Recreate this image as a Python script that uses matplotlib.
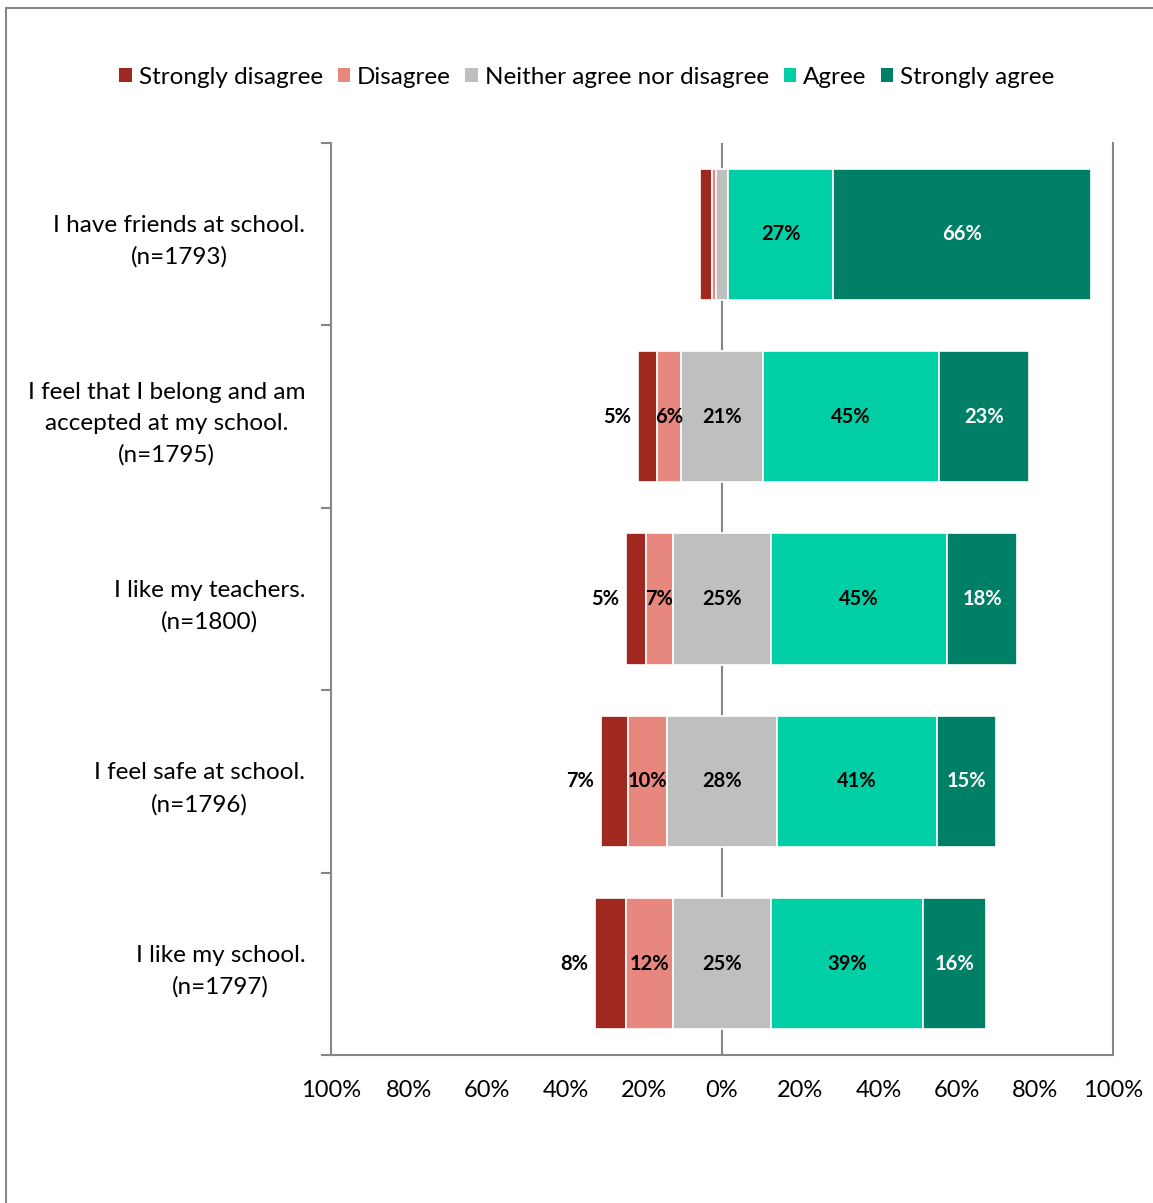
import matplotlib
matplotlib.use("Agg")
import matplotlib.pyplot as plt
from matplotlib.patches import Rectangle, Patch
import numpy as np

plt.rcParams['font.family'] = ['Lato', 'DejaVu Sans']

# Survey statements (top to bottom) and response shares in percent
statements = [
    "I have friends at school.\n(n=1793)",
    "I feel that I belong and am\naccepted at my school.\n(n=1795)",
    "I like my teachers.\n(n=1800)",
    "I feel safe at school.\n(n=1796)",
    "I like my school.\n(n=1797)",
]
strongly_disagree = [3, 5, 5, 7, 8]
disagree = [1, 6, 7, 10, 12]
neither = [3, 21, 25, 28, 25]
agree = [27, 45, 45, 41, 39]
strongly_agree = [66, 23, 18, 15, 16]

series_names = ["Strongly disagree", "Disagree", "Neither agree nor disagree",
                "Agree", "Strongly agree"]
colors = ["#A0291F", "#E8877E", "#BFBFBF", "#00CFA5", "#007F67"]
tick_values = [-100, -80, -60, -40, -20, 0, 20, 40, 60, 80, 100]
tick_labels = ["100%", "80%", "60%", "40%", "20%", "0%", "20%", "40%", "60%", "80%", "100%"]

W, H = 1153, 1203
fig = plt.figure(figsize=(W / 100, H / 100), dpi=100)
ax = fig.add_axes([331 / W, 1 - 1055 / H, (1113 - 331) / W, (1055 - 143) / H])

grey = "#868686"
y = np.arange(len(statements))
bar_h = 0.72

sd = np.array(strongly_disagree, float)
d = np.array(disagree, float)
n = np.array(neither, float)
a = np.array(agree, float)
sa = np.array(strongly_agree, float)

# Diverging layout: neutral split across zero, disagreement to the left, agreement to the right
segments = [
    (sd, -n / 2 - d - sd),
    (d, -n / 2 - d),
    (n, -n / 2),
    (a, n / 2),
    (sa, n / 2 + a),
]

ax.axvline(0, color=grey, lw=1.5, zorder=0)

for (vals, left), col in zip(segments, colors):
    ax.barh(y, vals, left=left, height=bar_h, color=col, edgecolor="white",
            linewidth=1.2, zorder=2)

label_size = 14.5
for i in range(len(statements)):
    # Strongly disagree label sits just outside the bar's left end
    if sd[i] >= 5:
        ax.annotate(f"{int(sd[i])}%", xy=(segments[0][1][i], y[i]), xytext=(-5, 0),
                    textcoords="offset points", ha="right", va="center",
                    fontsize=label_size, fontweight="bold", color="black", zorder=3)
    for (vals, left), tcol in zip(segments[1:], ["black", "black", "black", "white"]):
        v = vals[i]
        if v >= 5:
            ax.text(left[i] + v / 2, y[i], f"{int(v)}%", ha="center", va="center",
                    fontsize=label_size, fontweight="bold", color=tcol, zorder=3)

ax.set_xlim(-100, 100)
ax.set_ylim(len(statements) - 0.5, -0.5)

# Category labels at bar centres, tick marks on the boundaries between categories
ax.set_yticks(y)
ax.set_yticklabels(statements, fontsize=17.5)
for lbl in ax.get_yticklabels():
    lbl.set_multialignment("center")
    lbl.set_linespacing(1.6)
ax.tick_params(axis="y", which="major", length=0, pad=18.5)
ax.set_yticks(np.arange(-0.5, len(statements), 1.0), minor=True)
ax.tick_params(axis="y", which="minor", length=7, width=1.5, color=grey, direction="out")

ax.set_xticks(tick_values)
ax.set_xticklabels(tick_labels, fontsize=17)
ax.tick_params(axis="x", which="major", length=0, pad=18)
ax.set_xticks([-100, 0, 100], minor=True)
ax.tick_params(axis="x", which="minor", length=8, width=1.5, color=grey, direction="in")

for side in ["left", "bottom", "right"]:
    ax.spines[side].set_color(grey)
    ax.spines[side].set_linewidth(1.5)
ax.spines["top"].set_visible(False)

handles = [Patch(facecolor=c, edgecolor="none") for c in colors]
fig.legend(handles, series_names, loc="center", bbox_to_anchor=(587 / W, 1 - 77 / H),
           ncol=5, frameon=False, fontsize=17.5, handlelength=0.5, handleheight=0.5,
           handletextpad=0.3, columnspacing=0.6)

# Outer frame of the chart area
fig.patches.append(Rectangle((6 / W, -0.05), 1.2, 1 - 8 / H + 0.05, transform=fig.transFigure,
                             fill=False, edgecolor=grey, linewidth=1.5))

fig.savefig("out.png", dpi=100, facecolor="white")
